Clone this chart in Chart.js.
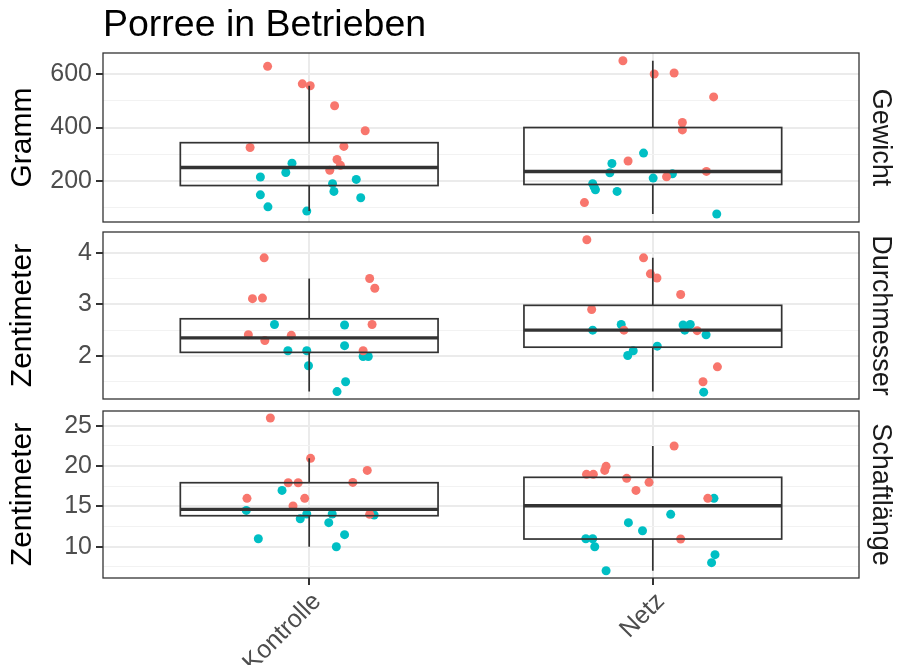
<!DOCTYPE html>
<html>
<head>
<meta charset="utf-8">
<script src="https://cdn.jsdelivr.net/npm/chart.js@4.4.0/dist/chart.umd.min.js"></script>
<style>
  html, body { margin: 0; padding: 0; background: #fff; }
  #wrap { position: relative; width: 898px; height: 665px; }
  .panel { position: absolute; left: 0; width: 898px; }
</style>
</head>
<body>
<div id="wrap">
  <div class="panel" style="top:0;height:227px"><canvas id="c1"></canvas></div>
  <div class="panel" style="top:227px;height:178px"><canvas id="c2"></canvas></div>
  <div class="panel" style="top:405px;height:260px"><canvas id="c3"></canvas></div>
</div>
<script>
// --- DATA ---
const categories = ['Kontrolle', 'Netz'];

// Gewicht (Gramm): jittered x position, value
const gewichtRotX = [0.879, 0.980, 1.003, 1.074, 1.163, 0.828, 1.101, 1.081, 1.091, 1.060,
                     1.913, 2.004, 2.062, 2.177, 2.086, 2.086, 1.928, 2.040, 2.156, 1.801];
const gewichtRotY = [630, 564, 557, 482, 388, 325, 329, 280, 258, 239,
                     651, 601, 605, 515, 419, 391, 274, 215, 235, 118];
const gewichtTuerkisX = [0.950, 0.932, 0.858, 1.068, 1.137, 0.858, 1.072, 1.150, 0.880, 0.993,
                         1.973, 1.881, 1.875, 2.057, 2.001, 1.825, 1.833, 1.829, 1.896, 2.186];
const gewichtTuerkisY = [266, 231, 214, 189, 205, 147, 160, 136, 102, 86,
                         304, 265, 230, 226, 210, 189, 166, 177, 160, 75];
// whisker low, Q1, median, Q3, whisker high
const gewichtBoxKontrolle = [86, 182, 250, 343, 557];
const gewichtBoxNetz = [75, 186, 235, 400, 651];

// Durchmesser (Zentimeter)
const durchmesserRotX = [0.869, 0.835, 0.864, 1.176, 1.191, 1.183, 0.823, 0.871, 0.948, 1.157,
                         1.808, 1.973, 1.993, 2.012, 2.081, 1.822, 1.916, 2.129, 2.188, 2.146];
const durchmesserRotY = [3.90, 3.11, 3.12, 3.50, 3.31, 2.61, 2.41, 2.30, 2.40, 2.10,
                         4.25, 3.90, 3.59, 3.51, 3.19, 2.90, 2.50, 2.49, 1.79, 1.50];
const durchmesserTuerkisX = [0.899, 1.103, 1.103, 0.938, 0.993, 1.157, 1.172, 0.998, 1.106, 1.081,
                             1.825, 1.908, 2.088, 2.109, 2.093, 2.155, 2.013, 1.943, 1.927, 2.148];
const durchmesserTuerkisY = [2.61, 2.60, 2.20, 2.10, 2.10, 1.99, 1.99, 1.81, 1.50, 1.31,
                             2.50, 2.61, 2.60, 2.61, 2.50, 2.41, 2.19, 2.10, 2.01, 1.30];
const durchmesserBoxKontrolle = [1.31, 2.07, 2.35, 2.72, 3.50];
const durchmesserBoxNetz = [1.31, 2.17, 2.50, 2.98, 3.90];

// Schaftlaenge (Zentimeter)
const schaftRotX = [0.887, 1.004, 1.169, 0.939, 0.968, 1.127, 0.819, 0.987, 0.953, 1.176,
                    2.062, 1.864, 1.860, 1.807, 1.827, 1.924, 1.989, 1.951, 2.160, 2.081];
const schaftRotY = [25.95, 20.95, 19.46, 17.93, 17.93, 17.97, 15.99, 15.99, 15.04, 14.01,
                    22.48, 19.96, 19.46, 18.97, 18.97, 18.47, 17.98, 16.98, 15.99, 10.95];
const schaftTuerkisX = [0.817, 0.921, 0.993, 0.974, 1.067, 1.057, 1.189, 1.103, 0.852, 1.079,
                        2.178, 2.052, 1.929, 1.970, 1.805, 1.825, 1.831, 2.181, 2.171, 1.864];
const schaftTuerkisY = [14.50, 16.98, 14.05, 13.47, 14.05, 12.98, 13.93, 11.49, 10.99, 10.00,
                        15.99, 14.01, 12.98, 11.98, 10.99, 10.99, 10.00, 9.01, 8.02, 7.02];
const schaftBoxKontrolle = [10.0, 13.84, 14.63, 17.93, 20.95];
const schaftBoxNetz = [7.02, 10.95, 15.08, 18.6, 22.48];

// tick labels (major) and minor grid lines
const gewichtTicks = [200, 400, 600];
const gewichtMinor = [100, 300, 500];
const durchmesserTicks = [2, 3, 4];
const durchmesserMinor = [1.5, 2.5, 3.5];
const schaftTicks = [10, 15, 20, 25];
const schaftMinor = [7.5, 12.5, 17.5, 22.5];

// --- STYLE ---
const FONT = "'Liberation Sans', Arial, sans-serif";
const RED = '#F8766D';
const CYAN = '#00BFC4';
const BOX_HALF = 0.375;

function toPoints(xs, ys) {
    return xs.map((x, i) => ({ x: x, y: ys[i] }));
}

// boxplots drawn on top of the jittered points, then panel border + strip label
const boxPlugin = {
    id: 'boxes',
    afterDatasetsDraw(chart) {
        const o = chart.options.plugins.boxes;
        const ctx = chart.ctx, xs = chart.scales.x, ys = chart.scales.y;
        ctx.save();
        ctx.strokeStyle = '#333333';
        o.boxes.forEach((b, i) => {
            const c = i + 1;
            const x0 = xs.getPixelForValue(c - BOX_HALF), x1 = xs.getPixelForValue(c + BOX_HALF);
            const xm = xs.getPixelForValue(c);
            const yLo = ys.getPixelForValue(b[0]), yQ1 = ys.getPixelForValue(b[1]);
            const yMed = ys.getPixelForValue(b[2]), yQ3 = ys.getPixelForValue(b[3]);
            const yHi = ys.getPixelForValue(b[4]);
            ctx.lineWidth = 1.7;
            ctx.beginPath();
            ctx.moveTo(xm, yQ3); ctx.lineTo(xm, yHi);
            ctx.moveTo(xm, yQ1); ctx.lineTo(xm, yLo);
            ctx.stroke();
            ctx.strokeRect(x0, yQ3, x1 - x0, yQ1 - yQ3);
            ctx.lineWidth = 3.4;
            ctx.beginPath();
            ctx.moveTo(x0, yMed); ctx.lineTo(x1, yMed);
            ctx.stroke();
        });
        ctx.restore();
    },
    afterDraw(chart) {
        const o = chart.options.plugins.boxes;
        const a = chart.chartArea, ctx = chart.ctx;
        ctx.save();
        ctx.strokeStyle = '#333333';
        ctx.lineWidth = 1.3;
        ctx.strokeRect(a.left, a.top, a.right - a.left, a.bottom - a.top);
        ctx.translate(880, (a.top + a.bottom) / 2);
        ctx.rotate(Math.PI / 2);
        ctx.fillStyle = '#1A1A1A';
        ctx.font = '27px ' + FONT;
        ctx.textAlign = 'center';
        ctx.textBaseline = 'middle';
        ctx.fillText(o.strip, 0, 0);
        ctx.restore();
    }
};

// no extra label padding around the plot area, positions are set by layout.padding
function noScalePadding(s) {
    s.paddingTop = 0; s.paddingBottom = 0; s.paddingLeft = 0; s.paddingRight = 0;
}

function makePanel(id, cfg) {
    const allTicks = cfg.ticks.concat(cfg.minor).sort((a, b) => a - b);
    const isMajor = v => cfg.ticks.includes(v);
    return new Chart(document.getElementById(id), {
        type: 'scatter',
        data: {
            datasets: [
                { data: toPoints(cfg.redX, cfg.redY), backgroundColor: RED, pointRadius: 4.5, borderWidth: 0 },
                { data: toPoints(cfg.cyanX, cfg.cyanY), backgroundColor: CYAN, pointRadius: 4.5, borderWidth: 0 }
            ]
        },
        options: {
            responsive: true,
            maintainAspectRatio: false,
            animation: false,
            events: [],
            layout: { padding: cfg.padding },
            plugins: {
                legend: { display: false },
                tooltip: { enabled: false },
                title: cfg.title ? {
                    display: true, text: cfg.title, align: 'start', fullSize: false,
                    color: '#000', font: { family: FONT, size: 37.5, weight: 'normal' },
                    padding: { top: 3, bottom: 5 }
                } : { display: false },
                boxes: { boxes: cfg.boxes, strip: cfg.strip }
            },
            scales: {
                x: {
                    type: 'linear', min: 0.4, max: 2.6,
                    afterBuildTicks: s => { s.ticks = [{ value: 1 }, { value: 2 }]; },
                    afterFit: s => { s.height = cfg.showX ? 87 : 0; noScalePadding(s); },
                    ticks: {
                        display: cfg.showX, autoSkip: false,
                        minRotation: 45, maxRotation: 45, labelOffset: 8, padding: 2,
                        color: '#4D4D4D', font: { family: FONT, size: 25 },
                        callback: v => categories[v - 1]
                    },
                    grid: { color: '#EBEBEB', lineWidth: 2, drawTicks: cfg.showX, tickLength: 7, tickColor: '#333333' },
                    border: { display: false }
                },
                y: {
                    min: cfg.min, max: cfg.max,
                    afterBuildTicks: s => { s.ticks = allTicks.map(v => ({ value: v })); },
                    afterFit: s => { s.width = 103; noScalePadding(s); },
                    ticks: {
                        autoSkip: false, padding: 4,
                        color: '#4D4D4D', font: { family: FONT, size: 25 },
                        callback: v => isMajor(v) ? String(v) : ''
                    },
                    grid: {
                        color: c => (c.tick && isMajor(c.tick.value)) ? '#EBEBEB' : '#F2F2F2',
                        lineWidth: c => (c.tick && isMajor(c.tick.value)) ? 2 : 1,
                        tickColor: c => (c.tick && isMajor(c.tick.value)) ? '#333333' : 'rgba(0,0,0,0)',
                        tickLength: 7
                    },
                    border: { display: false },
                    title: {
                        display: true, text: cfg.yTitle, color: '#000',
                        font: { family: FONT, size: 30 }, padding: { top: 5, bottom: 0 }
                    }
                }
            }
        },
        plugins: [boxPlugin]
    });
}

makePanel('c1', {
    title: 'Porree in Betrieben', strip: 'Gewicht', yTitle: 'Gramm',
    min: 45, max: 680, ticks: gewichtTicks, minor: gewichtMinor,
    redX: gewichtRotX, redY: gewichtRotY, cyanX: gewichtTuerkisX, cyanY: gewichtTuerkisY,
    boxes: [gewichtBoxKontrolle, gewichtBoxNetz],
    padding: { top: 0, bottom: 5, left: 0, right: 39 }, showX: false
});
makePanel('c2', {
    strip: 'Durchmesser', yTitle: 'Zentimeter',
    min: 1.167, max: 4.40, ticks: durchmesserTicks, minor: durchmesserMinor,
    redX: durchmesserRotX, redY: durchmesserRotY, cyanX: durchmesserTuerkisX, cyanY: durchmesserTuerkisY,
    boxes: [durchmesserBoxKontrolle, durchmesserBoxNetz],
    padding: { top: 5, bottom: 6, left: 0, right: 39 }, showX: false
});
makePanel('c3', {
    strip: 'Schaftlänge', yTitle: 'Zentimeter',
    min: 6.12, max: 26.82, ticks: schaftTicks, minor: schaftMinor,
    redX: schaftRotX, redY: schaftRotY, cyanX: schaftTuerkisX, cyanY: schaftTuerkisY,
    boxes: [schaftBoxKontrolle, schaftBoxNetz],
    padding: { top: 6, bottom: 0, left: 0, right: 39 }, showX: true
});
</script>
</body>
</html>
